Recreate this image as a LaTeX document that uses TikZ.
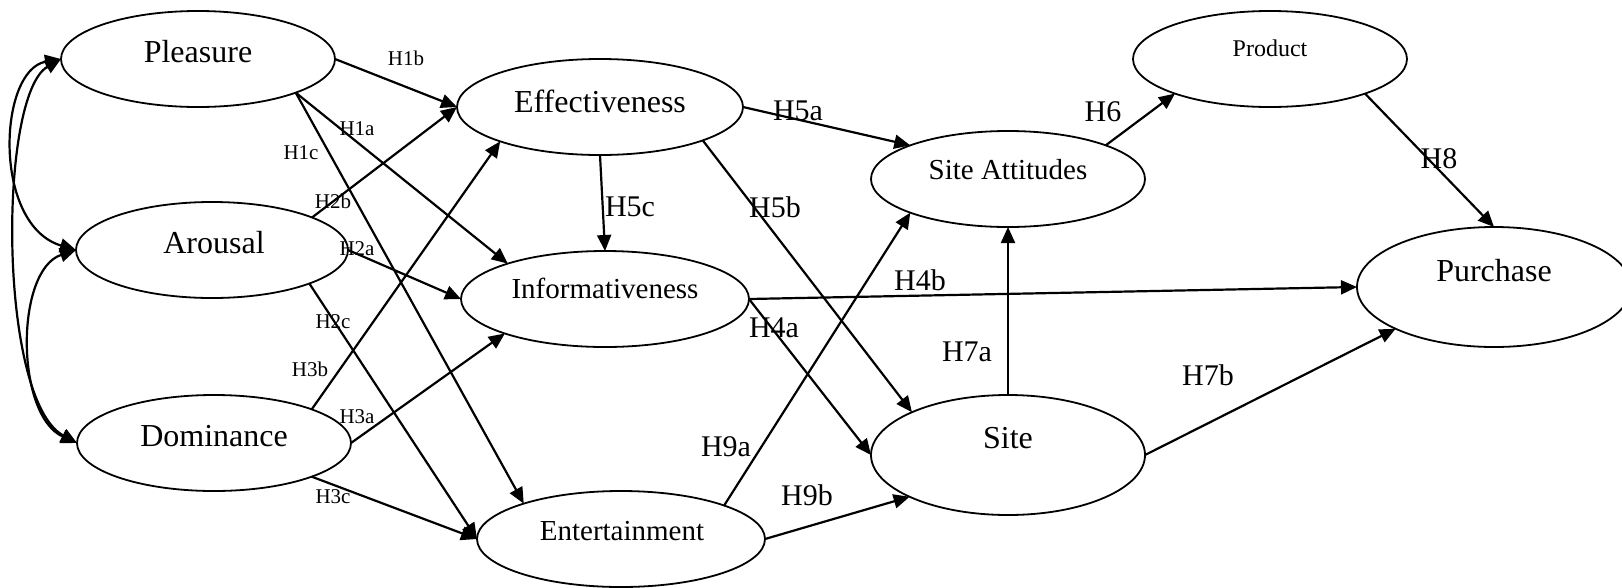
\documentclass[tikz,border=0pt]{standalone}
\usepackage{fontspec}
\setmainfont{Liberation Serif}
\usetikzlibrary{arrows.meta,shapes.geometric}
\begin{document}
\begin{tikzpicture}[x=1pt,y=-1pt,
  ell/.style 2 args={ellipse,draw,line width=1.8pt,inner sep=0pt,outer sep=0pt,minimum width=#1pt,minimum height=#2pt},
  big/.style={inner sep=0pt,font=\fontsize{32}{36}\selectfont},
  mid/.style={inner sep=0pt,font=\fontsize{29}{33}\selectfont},
  sml/.style={inner sep=0pt,font=\fontsize{24}{28}\selectfont},
  hs/.style={inner sep=0pt,font=\fontsize{21}{24}\selectfont},
  hb/.style={inner sep=0pt,font=\fontsize{30}{34}\selectfont},
  conn/.style={line width=2.2pt,-{Triangle[length=16pt,width=14pt]}},
  dbl/.style={line width=2.2pt,{Triangle[length=16pt,width=14pt]}-{Triangle[length=16pt,width=14pt]}}]
\useasboundingbox (0,0) rectangle (1622,587);
% ellipses
\node[ell={274}{96}] (P) at (198,59) {};
\node[ell={272}{96}] (A) at (212,250) {};
\node[ell={274}{96}] (D) at (214,443) {};
\node[ell={286}{96}] (Ef) at (600,107) {};
\node[ell={288}{96}] (I) at (605,299) {};
\node[ell={288}{96}] (En) at (621,539) {};
\node[ell={274}{96}] (SA) at (1008,179) {};
\node[ell={274}{96}] (Pr) at (1270,59) {};
\node[ell={274}{120}] (S) at (1008,455) {};
\node[ell={274}{120}] (Pu) at (1494,287) {};
% texts
\node[big] (Pt) at (198,52) {Pleasure};
\node[big] (At) at (214,243) {Arousal};
\node[big] (Dt) at (214,436) {Dominance};
\node[big] (Eft) at (600,101) {Effectiveness};
\node[mid] (It) at (605,288) {Informativeness};
\node[mid] (Ent) at (622,531) {Entertainment};
\node[mid] (SAt) at (1008,170) {Site Attitudes};
\node[sml] (Prt) at (1270,48) {Product};
\node[big] (St) at (1008,438) {Site};
\node[big] (Put) at (1494,271) {Purchase};
% correlations
\draw[dbl] (P.west) .. controls (-2,70) and (-8,225) .. (A.west);
\draw[dbl] (P.west) .. controls (-2,95) and (-2,400) .. (D.west);
\draw[dbl] (A.west) .. controls (15,270) and (15,415) .. (D.west);
% paths
\draw[conn] (P.east) -- (Ef.west);
\draw[conn] (P.-19.3) -- (I.160.7);
\draw[conn] (P.-19.3) -- (En.160.6);
\draw[conn] (A.18.6) -- (Ef.west);
\draw[conn] (A.east) -- (I.west);
\draw[conn] (A.-19.7) -- (En.west);
\draw[conn] (D.19.5) -- (Ef.199.4);
\draw[conn] (D.east) -- (I.199.3);
\draw[conn] (D.-19.5) -- (En.west);
\draw[conn] (Ef.east) -- (SA.161.2);
\draw[conn] (Ef.south) -- (I.north);
\draw[conn] (Ef.-18.3) -- (S.156.3);
\draw[conn] (I.east) -- (Pu.west);
\draw[conn] (I.east) -- (S.west);
\draw[conn] (En.18.8) -- (SA.199.1);
\draw[conn] (En.east) -- (S.203.2);
\draw[conn] (S.north) -- (SA.south);
\draw[conn] (S.east) -- (Pu.203.9);
\draw[conn] (SA.19.8) -- (Pr.200.2);
\draw[conn] (Pr.-20) -- (Pu.north);
% labels
\node[hs] (l1b) at (406,58) {H1b};
\node[hs] (l1a) at (357,129) {H1a};
\node[hs] (l1c) at (301,153) {H1c};
\node[hs] (l2b) at (333,201) {H2b};
\node[hs] (l2a) at (357,249) {H2a};
\node[hs] (l2c) at (333,322) {H2c};
\node[hs] (l3b) at (310,369) {H3b};
\node[hs] (l3a) at (357,417) {H3a};
\node[hs] (l3c) at (333,497) {H3c};
\node[hb] (l5a) at (798,111) {H5a};
\node[hb] (l5c) at (630,207) {H5c};
\node[hb] (l5b) at (775,207) {H5b};
\node[hb] (l4b) at (920,280) {H4b};
\node[hb] (l4a) at (774,328) {H4a};
\node[hb] (l7a) at (967,352) {H7a};
\node[hb] (l9a) at (726,447) {H9a};
\node[hb] (l9b) at (807,495) {H9b};
\node[hb] (l7b) at (1208,375) {H7b};
\node[hb] (l6) at (1103,112) {H6};
\node[hb] (l8) at (1439,159) {H8};
\end{tikzpicture}
\end{document}
